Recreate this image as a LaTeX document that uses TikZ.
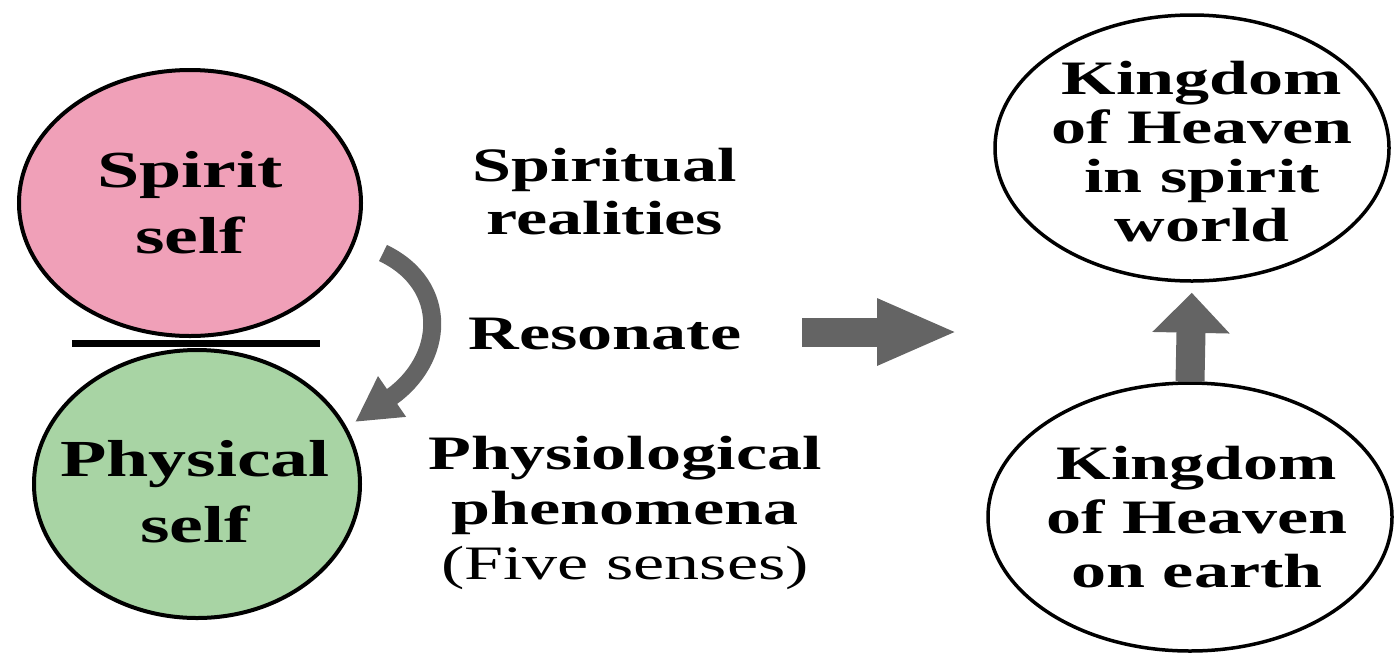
\documentclass[tikz,border=0pt]{standalone}
\usepackage{fontspec}
\setmainfont{Liberation Serif}[FakeStretch=1.46]
\usepackage{tikz}
\usetikzlibrary{arrows.meta,shapes.geometric}
\definecolor{spiritpink}{HTML}{F0A0B8}
\definecolor{bodygreen}{HTML}{A8D4A4}
\definecolor{arrowgray}{HTML}{646464}
\tikzset{
  ball/.style={ellipse,draw=black,line width=4pt,inner sep=0pt},
  bigtxt/.style={font={\bfseries\fontsize{52}{#1}\selectfont},align=center,inner sep=0pt},
  midtxt/.style={font={\bfseries\fontsize{48}{#1}\selectfont},align=center,inner sep=0pt},
  fat/.style={draw=arrowgray,line width=#1}
}
\begin{document}
\begin{tikzpicture}[x=1pt,y=-1pt]
\useasboundingbox (0,0) rectangle (1394,657);
\node[ball,fill=spiritpink,minimum width=342pt,minimum height=266pt] (spirit) at (190,203) {};
\node[ball,fill=bodygreen,minimum width=326pt,minimum height=268pt] (body) at (197,484) {};
\node[ball,line width=3.5pt,minimum width=394pt,minimum height=266pt] (heaven) at (1192,148) {};
\node[ball,line width=3.5pt,minimum width=404pt,minimum height=268pt] (earth) at (1190,517) {};
\node[bigtxt=66] (spiritlbl) at (spirit) {Spirit\\self};
\node[bigtxt=66] (bodylbl) at (195,492) {Physical\\self};
\node[midtxt=53] (real) at (605,192) {Spiritual\\realities};
\node[midtxt=48] (reso) at (605,334) {Resonate};
\node[midtxt=55] (phen) at (625,513) {Physiological\\phenomena\\{\mdseries(Five senses)}};
\node[midtxt=49] (heavenlbl) at (1202,152) {Kingdom\\of Heaven\\in spirit\\world};
\node[midtxt=54] (earthlbl) at (1197,517) {Kingdom\\of Heaven\\on earth};
\coordinate (divl) at (72,343); \coordinate (divr) at (320,343);
\draw[line width=7pt] (divl) -- (divr);
\coordinate (curvs) at (383,253); \coordinate (curve) at (355,422);
\draw[fat=18pt,-{Triangle[length=45pt,width=46pt]}] (curvs) .. controls (450,285) and (445,360) .. (curve);
\coordinate (pushs) at (802,332); \coordinate (pushe) at (958,332);
\draw[fat=29pt,-{Triangle[length=81pt,width=61pt]}] (pushs) -- (pushe);
\draw[fat=29pt,-{Triangle[length=40pt,width=75pt]},shorten >=10pt] (earth.north) -- (heaven.south);
\end{tikzpicture}
\end{document}
